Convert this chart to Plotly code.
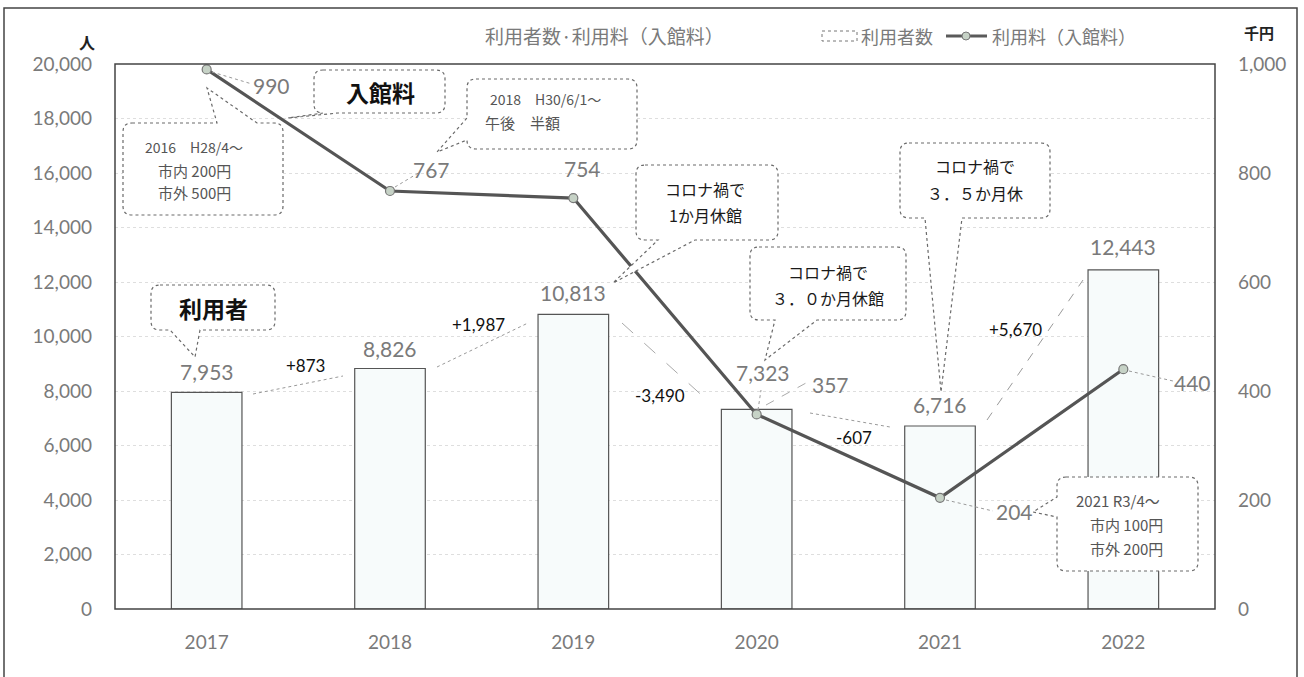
import plotly.graph_objects as go

# ---------------- data ----------------
years = ["2017", "2018", "2019", "2020", "2021", "2022"]
users = [7953, 8826, 10813, 7323, 6716, 12443]          # 利用者数 (人)
fees = [990, 767, 754, 357, 204, 440]                   # 利用料 (千円)
user_diffs = ["+873", "+1,987", "-3,490", "-607", "+5,670"]
left_ticks = [0, 2000, 4000, 6000, 8000, 10000, 12000, 14000, 16000, 18000, 20000]
right_ticks = [0, 200, 400, 600, 800, 1000]

xi = list(range(len(years)))

# ---------------- geometry helpers (pixel -> paper) ----------------
FW, FH = 1304, 677
L, R, T, B = 115, 1215, 64, 609
W, H = R - L, B - T


def X(px):
    return (px - L) / W


def Y(py):
    return (B - py) / H


NUM = "Lato, 'Noto Sans CJK JP', sans-serif"
JP = "'Noto Sans CJK JP', sans-serif"
GRAY = "#7a7a7a"

fig = go.Figure()

fig.add_trace(go.Bar(
    x=xi, y=users, name="利用者数", width=0.385,
    marker=dict(color="#f7fbfb", line=dict(color="#555555", width=1.2)),
    yaxis="y", showlegend=False, hoverinfo="skip",
))
fig.add_trace(go.Scatter(
    x=xi, y=fees, name="利用料（入館料）", mode="lines+markers",
    line=dict(color="#555555", width=3.2),
    marker=dict(symbol="circle", size=9, color="#c6d2c6", line=dict(color="#777777", width=1.2)),
    yaxis="y2", showlegend=False, hoverinfo="skip",
))

shapes = []
annotations = []


def ann(px, py, text, size, color, family=JP, bold=False, xanchor="center", align="center"):
    annotations.append(dict(
        x=X(px), y=Y(py), xref="paper", yref="paper", text=f"<b>{text}</b>" if bold else text,
        showarrow=False, xanchor=xanchor, yanchor="middle", align=align,
        font=dict(size=size, color=color, family=family),
    ))


def seg(p0, p1, color="#9a9a9a", dash="dash", width=1):
    shapes.append(dict(
        type="line", xref="paper", yref="paper",
        x0=X(p0[0]), y0=Y(p0[1]), x1=X(p1[0]), y1=Y(p1[1]),
        line=dict(color=color, width=width, dash=dash), layer="above",
    ))


def callout(x0, y0, x1, y1, edge, a, b, tip, r=9):
    def P(px, py):
        return f"{X(px):.5f},{Y(py):.5f}"
    d = f"M {P(x0 + r, y0)} "
    if edge == "top":
        d += f"L {P(a, y0)} L {P(*tip)} L {P(b, y0)} "
    d += f"L {P(x1 - r, y0)} Q {P(x1, y0)} {P(x1, y0 + r)} "
    if edge == "right":
        d += f"L {P(x1, a)} L {P(*tip)} L {P(x1, b)} "
    d += f"L {P(x1, y1 - r)} Q {P(x1, y1)} {P(x1 - r, y1)} "
    if edge == "bottom":
        d += f"L {P(b, y1)} L {P(*tip)} L {P(a, y1)} "
    d += f"L {P(x0 + r, y1)} Q {P(x0, y1)} {P(x0, y1 - r)} "
    if edge == "left":
        d += f"L {P(x0, b)} L {P(*tip)} L {P(x0, a)} "
    d += f"L {P(x0, y0 + r)} Q {P(x0, y0)} {P(x0 + r, y0)} Z"
    shapes.append(dict(type="path", xref="paper", yref="paper", path=d,
                       fillcolor="white", line=dict(color="#6a6a6a", width=1.2, dash="dot"),
                       layer="above"))


# outer frame and plot frame
shapes.append(dict(type="rect", xref="paper", yref="paper", x0=X(4), y0=Y(8), x1=X(1297), y1=Y(700),
                   line=dict(color="#444444", width=1.5), layer="below"))
shapes.append(dict(type="rect", xref="paper", yref="paper", x0=0, y0=0, x1=1, y1=1,
                   line=dict(color="#444444", width=1.5), layer="above"))

# title and legend
ann(604, 35, "利用者数·利用料（入館料）", 19, GRAY)
shapes.append(dict(type="rect", xref="paper", yref="paper", x0=X(822), y0=Y(31), x1=X(857), y1=Y(41),
                   line=dict(color="#777777", width=1, dash="dot"), fillcolor="white"))
ann(859, 36, "利用者数", 18, GRAY, xanchor="left")
seg((946, 36), (987, 36), color="#5a5a5a", dash="solid", width=3)
shapes.append(dict(type="circle", xref="paper", yref="paper", x0=X(962), y0=Y(32), x1=X(970), y1=Y(40),
                   fillcolor="#c6d2c6", line=dict(color="#777777", width=1)))
ann(990, 36, "利用料（入館料）", 18, GRAY, xanchor="left")

# axis unit labels
ann(87, 42, "人", 16, "#222222", bold=True)
ann(1259, 33, "千円", 15, "#222222", bold=True)

# bar value labels (anchored to data)
bar_shift = [(0, 21), (0, 20), (0, 22), (6, 37), (0, 21), (0, 23)]
for i, v, (sx, sy) in zip(xi, users, bar_shift):
    annotations.append(dict(x=i, y=v, xref="x", yref="y", text=f"{v:,}", showarrow=False,
                            xshift=sx, yshift=sy, font=dict(size=21, color=GRAY, family=NUM)))

# line value labels (anchored to data)
fee_shift = [(65, -16), (41, 21), (9, 30), (74, 30), (74, -14), (69, -13)]
for i, v, (sx, sy) in zip(xi, fees, fee_shift):
    annotations.append(dict(x=i, y=v, xref="x", yref="y2", text=f"{v:,}", showarrow=False,
                            xshift=sx, yshift=sy, font=dict(size=21, color=GRAY, family=NUM)))

# leader lines for fee labels
seg((212, 72), (252, 84), dash="dot")
seg((395, 187), (420, 172), dash="dot")
seg((758, 410), (761, 390), dash="dot")
seg((766, 405), (806, 383), dash="dash", color="#aaaaaa")
seg((946, 500), (993, 511), dash="dot")
seg((1129, 371), (1173, 381), dash="dot")

# difference labels & lines
diff_pos = [(305, 365), (478, 324), (660, 395), (854, 438), (1015, 329)]
for t, (px, py) in zip(user_diffs, diff_pos):
    ann(px, py, t, 17, "#111111", family=NUM)
seg((253, 394), (343, 376), dash="dot")
seg((437, 367), (528, 323), dash="dot")
seg((622, 323), (707, 400), dash="longdash", color="#aaaaaa")
seg((810, 413), (890, 427), dash="dot")
seg((987, 420), (1083, 280), dash="dash")

# callouts
callout(314, 70, 445, 113, "bottom", 323, 338, (288, 118))
ann(380, 92, "入館料", 23, "#111111", bold=True)

callout(123, 123, 283, 215, "top", 217, 257, (207, 88))
ann(194, 147, "2016　H28/4～", 14, "#555555")
ann(194, 170, "市内 200円", 15, "#555555")
ann(194, 193, "市外 500円", 15, "#555555")

callout(467, 79, 637, 149, "left", 118, 140, (437, 152))
ann(545, 99, "2018　H30/6/1～", 14, "#555555")
ann(522, 123, "午後　半額", 15, "#555555")

callout(636, 165, 778, 240, "bottom", 658, 695, (613, 283))
ann(705, 189, "コロナ禍で", 16, "#1a1a1a")
ann(705, 215, "1か月休館", 16, "#1a1a1a")

callout(750, 247, 906, 320, "bottom", 775, 817, (765, 360))
ann(828, 272, "コロナ禍で", 16, "#1a1a1a")
ann(828, 298, "３．０か月休館", 16, "#1a1a1a")

callout(900, 143, 1050, 218, "bottom", 925, 962, (941, 392))
ann(975, 166, "コロナ禍で", 16, "#1a1a1a")
ann(975, 193, "３．５か月休", 16, "#1a1a1a")

callout(151, 285, 275, 330, "bottom", 170, 200, (195, 357))
ann(213, 308, "利用者", 23, "#111111", bold=True)

callout(1057, 477, 1198, 571, "left", 497, 517, (1033, 512))
ann(1118, 500, "2021 R3/4～", 15, "#555555")
ann(1126, 524, "市内 100円", 15, "#555555")
ann(1126, 548, "市外 200円", 15, "#555555")

fig.update_layout(
    width=FW, height=FH,
    margin=dict(l=L, r=FW - R, t=T, b=FH - B, autoexpand=False),
    paper_bgcolor="white", plot_bgcolor="white",
    showlegend=False,
    hovermode=False,
    xaxis=dict(range=[-0.5, len(years) - 0.5], tickvals=xi, ticktext=years,
               showgrid=False, showline=False, ticks="", zeroline=False,
               tickfont=dict(size=19, color=GRAY, family=NUM), ticklabelstandoff=20),
    yaxis=dict(range=[0, 20000], tickvals=left_ticks, ticktext=[f"{v:,}" for v in left_ticks],
               showgrid=True, gridcolor="#dedede", griddash="dot", gridwidth=1,
               zeroline=False, showline=False, ticks="",
               tickfont=dict(size=19, color=GRAY, family=NUM), ticklabelstandoff=22),
    yaxis2=dict(range=[0, 1000], tickvals=right_ticks, ticktext=[f"{v:,}" for v in right_ticks],
                overlaying="y", side="right", showgrid=False, zeroline=False, showline=False,
                ticks="", tickfont=dict(size=19, color=GRAY, family=NUM), ticklabelstandoff=22),
    shapes=shapes,
    annotations=annotations,
)

fig.write_html("out.html", config={"displayModeBar": False},
               post_script="document.body.style.margin='0';")
